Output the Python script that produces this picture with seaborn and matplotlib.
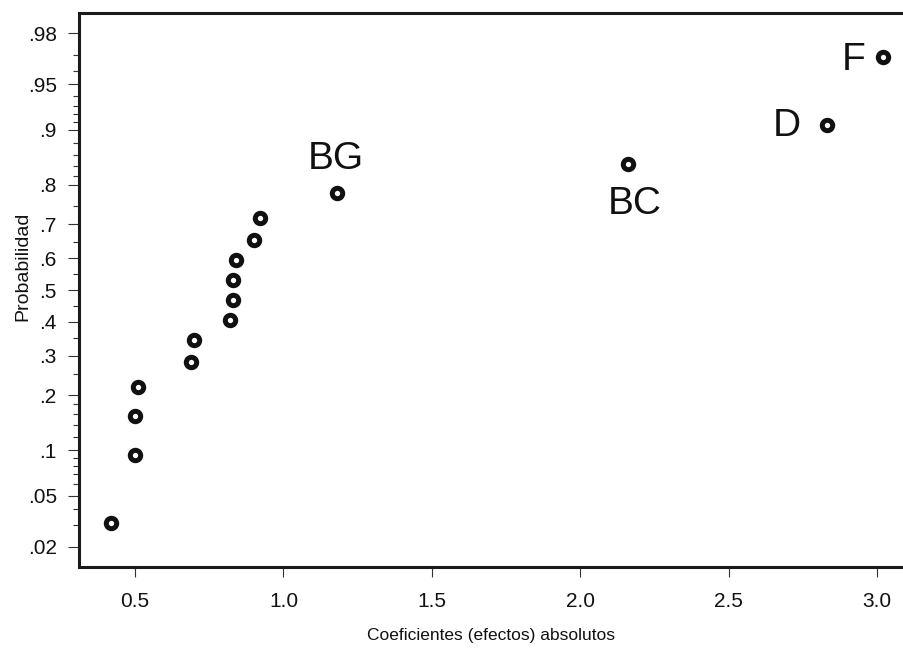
"""
Grafico de probabilidad normal de los coeficientes (efectos) absolutos.
Escala del eje Y en cuantiles normales, etiquetas en probabilidad.
Salida: out.png (904x649)
"""

from statistics import NormalDist

import numpy as np
import pandas as pd
import matplotlib
matplotlib.use("Agg")
import matplotlib.pyplot as plt
import seaborn as sns

# efectos absolutos (ordenados)
effects = [0.42, 0.50, 0.50, 0.51, 0.69, 0.70, 0.82, 0.83,
           0.83, 0.84, 0.90, 0.92, 1.18, 2.16, 2.83, 3.02]
# probabilidad de cada punto
probs = [0.03125, 0.09375, 0.15625, 0.21875, 0.28125, 0.34375, 0.40625, 0.46875,
         0.53125, 0.59375, 0.65625, 0.71875, 0.78125, 0.84375, 0.90625, 0.96875]
# efectos etiquetados
labels = ["", "", "", "", "", "", "", "",
          "", "", "", "", "BG", "BC", "D", "F"]

x_ticks = [0.5, 1.0, 1.5, 2.0, 2.5, 3.0]
x_tick_labels = ["0.5", "1.0", "1.5", "2.0", "2.5", "3.0"]
y_ticks = [0.02, 0.05, 0.1, 0.2, 0.3, 0.4, 0.5, 0.6, 0.7, 0.8, 0.9, 0.95, 0.98]
y_tick_labels = [".02", ".05", ".1", ".2", ".3", ".4", ".5", ".6", ".7", ".8", ".9", ".95", ".98"]
y_minor = [0.03, 0.04, 0.06, 0.07, 0.08, 0.09, 0.12, 0.14, 0.16, 0.18,
           0.25, 0.35, 0.45, 0.55, 0.65, 0.75,
           0.82, 0.84, 0.86, 0.88, 0.91, 0.92, 0.93, 0.94, 0.96, 0.97]

# posicion del texto respecto al punto (puntos tipograficos)
LABEL_OFFSETS = {"BG": (-1, 17), "BC": (5, -36), "D": (-29, -8), "F": (-21, -9.5)}

_nd = NormalDist()


def prob_to_z(p):
    p = np.clip(np.asarray(p, dtype=float), 1e-9, 1 - 1e-9)
    return np.vectorize(_nd.inv_cdf, otypes=[float])(p)


def z_to_prob(z):
    z = np.asarray(z, dtype=float)
    return np.vectorize(_nd.cdf, otypes=[float])(z)


def main():
    sns.set_style("ticks")
    plt.rcParams["font.family"] = ["Liberation Sans", "DejaVu Sans"]

    df = pd.DataFrame({"efecto": effects, "prob": probs, "label": labels})

    fig = plt.figure(figsize=(9.04, 6.49), dpi=100)
    ax = fig.add_axes([79 / 904, 1 - 567 / 649, 1 - 79 / 904, (567 - 13) / 649])
    ax.set_yscale("function", functions=(prob_to_z, z_to_prob))

    sns.scatterplot(
        data=df, x="efecto", y="prob", ax=ax,
        marker="o", s=56, color="white", edgecolor="#111111", linewidth=3.6,
        zorder=3, legend=False,
    )

    for _, row in df[df["label"] != ""].iterrows():
        dx, dy = LABEL_OFFSETS[row["label"]]
        ax.annotate(
            row["label"], (row["efecto"], row["prob"]),
            xytext=(dx, dy), textcoords="offset points",
            ha="center", va="baseline", fontsize=28, color="#111111",
        )

    ax.set_xlim(0.3114, 3.090)
    ax.set_ylim(0.01335, 0.98665)
    ax.set_xticks(x_ticks, x_tick_labels)
    ax.set_yticks(y_ticks, y_tick_labels)
    ax.set_yticks(y_minor, minor=True)

    ax.tick_params(axis="x", which="major", length=7, width=0.8, pad=11,
                   labelsize=15, color="#333333", labelcolor="#111111")
    ax.tick_params(axis="y", which="major", length=8, width=0.8, pad=8,
                   labelsize=15, color="#333333", labelcolor="#111111")
    ax.tick_params(axis="y", which="minor", length=4.3, width=0.8, color="#333333")
    ax.tick_params(axis="x", which="minor", length=0)

    for side in ["left", "bottom", "top"]:
        ax.spines[side].set_linewidth(2.2)
        ax.spines[side].set_color("#1a1a1a")
    ax.spines["right"].set_visible(False)

    ax.set_xlabel("Coeficientes (efectos) absolutos", fontsize=12.5, color="#111111", labelpad=12)
    ax.set_ylabel("Probabilidad", fontsize=14, color="#111111")
    ax.yaxis.set_label_coords(-0.058, 0.542)

    plt.savefig("out.png", dpi=100)
    plt.close()


if __name__ == "__main__":
    main()
